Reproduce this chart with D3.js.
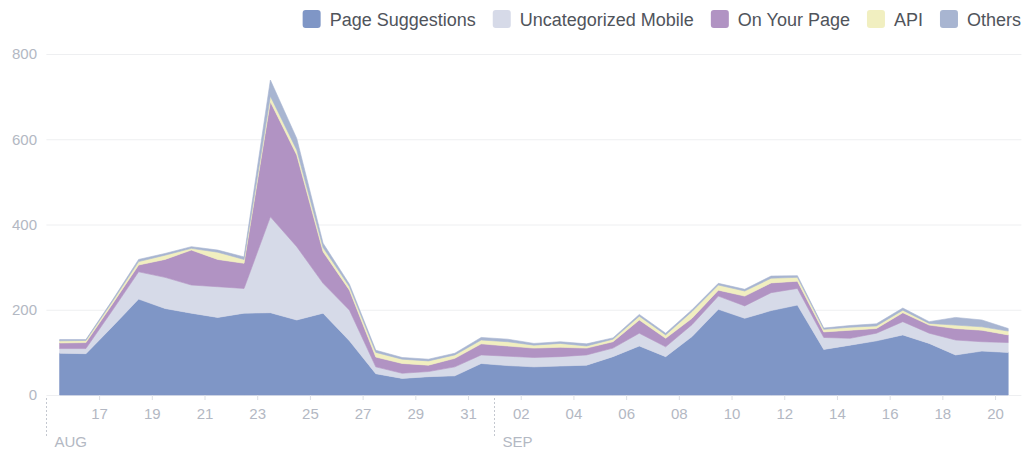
<!DOCTYPE html>
<html>
<head>
<meta charset="utf-8">
<script src="https://cdn.jsdelivr.net/npm/d3@7"></script>
<style>
  html, body { margin: 0; padding: 0; background: #ffffff; }
  svg { display: block; font-family: "Liberation Sans", Arial, sans-serif; }
</style>
</head>
<body>
<svg id="chart" width="1032" height="450"></svg>
<script>
// ---- data ----
const dates = [
  "2014-08-15","2014-08-16","2014-08-17","2014-08-18","2014-08-19","2014-08-20","2014-08-21",
  "2014-08-22","2014-08-23","2014-08-24","2014-08-25","2014-08-26","2014-08-27","2014-08-28",
  "2014-08-29","2014-08-30","2014-08-31","2014-09-01","2014-09-02","2014-09-03","2014-09-04",
  "2014-09-05","2014-09-06","2014-09-07","2014-09-08","2014-09-09","2014-09-10","2014-09-11",
  "2014-09-12","2014-09-13","2014-09-14","2014-09-15","2014-09-16","2014-09-17","2014-09-18",
  "2014-09-19","2014-09-20"
];
const seriesNames = ["Page Suggestions", "Uncategorized Mobile", "On Your Page", "API", "Others"];
const pageSuggestions = [98, 97, 160, 225, 203, 192, 182, 192, 193, 176, 192, 127, 50, 39, 43, 45, 74, 69, 66, 68, 70,
  90, 115, 90, 137, 201, 180, 198, 211, 107, 117, 127, 141, 121, 94, 103, 100];
const uncategorizedMobile = [11, 12, 38, 64, 73, 66, 72, 58, 225, 172, 70, 72, 16, 12, 12, 21, 20, 22, 22, 22, 24,
  20, 30, 23, 28, 31, 29, 42, 39, 28, 16, 18, 31, 24, 35, 22, 23];
const onYourPage = [13, 14, 15, 16, 42, 82, 64, 59, 270, 215, 74, 47, 23, 23, 15, 20, 26, 24, 22, 22, 16,
  15, 31, 20, 15, 14, 23, 23, 17, 13, 19, 11, 21, 19, 27, 27, 18];
const api = [5, 5, 6, 8, 10, 4, 17, 9, 13, 12, 10, 8, 11, 10, 10, 8, 9, 10, 7, 9, 5,
  6, 9, 8, 16, 12, 12, 11, 9, 6, 7, 6, 6, 4, 8, 8, 9];
const others = [3, 2, 3, 5, 4, 4, 5, 6, 38, 27, 10, 6, 5, 4, 4, 4, 6, 6, 4, 4, 5,
  3, 4, 4, 4, 4, 4, 5, 4, 3, 4, 5, 5, 4, 18, 16, 6];
const yTickValues = [0, 200, 400, 600, 800];
const xTickDates = ["2014-08-17","2014-08-19","2014-08-21","2014-08-23","2014-08-25","2014-08-27","2014-08-29",
  "2014-08-31","2014-09-02","2014-09-04","2014-09-06","2014-09-08","2014-09-10","2014-09-12","2014-09-14",
  "2014-09-16","2014-09-18","2014-09-20"];
const xTickLabels = ["17","19","21","23","25","27","29","31","02","04","06","08","10","12","14","16","18","20"];
const monthMarks = ["2014-08-15", "2014-09-01"];
const monthLabels = ["AUG", "SEP"];
const domainStart = "2014-08-15";
const domainEnd = "2014-09-21";

// ---- styles ----
const colors = ["#7f96c6", "#d6dae8", "#b193c3", "#f1efc0", "#a8b5d1"];
const textColor = "#b3b8c3";
const gridColor = "#eeeff1";

const parse = d3.timeParse("%Y-%m-%d");
const valuesBySeries = [pageSuggestions, uncategorizedMobile, onYourPage, api, others];
const rows = dates.map((d, i) => {
  const r = { date: d3.timeHour.offset(parse(d), 12) };
  seriesNames.forEach((k, s) => r[k] = valuesBySeries[s][i]);
  return r;
});

const svg = d3.select("#chart");
const mLeft = 46.4, mRight = 1021.4, mTop = 54, mBottom = 395;

const x = d3.scaleTime().domain([parse(domainStart), parse(domainEnd)]).range([mLeft, mRight]);
const y = d3.scaleLinear().domain([0, 800]).range([mBottom, mTop]);

// gridlines
svg.append("g").selectAll("line").data(yTickValues).join("line")
  .attr("x1", mLeft).attr("x2", mRight)
  .attr("y1", d => y(d) + 0.5).attr("y2", d => y(d) + 0.5)
  .attr("stroke", gridColor).attr("stroke-width", 1);

// y labels
svg.append("g").selectAll("text").data(yTickValues).join("text")
  .attr("x", 37).attr("y", d => y(d)).attr("dy", "0.35em")
  .attr("text-anchor", "end").attr("fill", textColor).attr("font-size", 15)
  .text(d => d);

// stacked areas
const stack = d3.stack().keys(seriesNames);
const layers = stack(rows);
const area = d3.area()
  .x(d => x(d.data.date))
  .y0(d => y(d[0]))
  .y1(d => y(d[1]))
  .curve(d3.curveLinear);

svg.append("g").selectAll("path").data(layers).join("path")
  .attr("d", area)
  .attr("fill", (d, i) => colors[i])
  .attr("stroke", (d, i) => colors[i])
  .attr("stroke-width", 0.6);

// x axis ticks
const xAxis = d3.axisBottom(x)
  .tickValues(xTickDates.map(parse))
  .tickFormat((d, i) => xTickLabels[i])
  .tickSizeInner(5).tickSizeOuter(0).tickPadding(8);
const gx = svg.append("g").attr("transform", `translate(0,${mBottom})`).call(xAxis);
gx.select(".domain").remove();
gx.selectAll(".tick line").attr("stroke", "#dcdfe5");
gx.selectAll(".tick text").attr("fill", textColor).attr("font-size", 15)
  .attr("font-family", "'Liberation Sans', Arial, sans-serif");

// month marks
const mg = svg.append("g");
monthMarks.forEach((m, i) => {
  const mx = Math.round(x(parse(m))) + 0.5;
  mg.append("line").attr("x1", mx).attr("x2", mx).attr("y1", mBottom + 3).attr("y2", 437)
    .attr("stroke", "#c4c8d0").attr("stroke-dasharray", "2,2");
  mg.append("text").attr("x", mx + 8).attr("y", 447)
    .attr("fill", textColor).attr("font-size", 15).text(monthLabels[i]);
});

// legend (right aligned)
const legend = svg.append("g");
const items = seriesNames.map((name, i) => {
  const g = legend.append("g");
  g.append("rect").attr("width", 18).attr("height", 18).attr("rx", 3).attr("ry", 3)
    .attr("y", 10).attr("fill", colors[i]);
  const t = g.append("text").attr("x", 27).attr("y", 25.5).attr("font-size", 18)
    .attr("fill", "#50545b").text(name);
  return { g, w: 27 + t.node().getComputedTextLength() };
});
let lx = 1021;
for (let i = items.length - 1; i >= 0; i--) {
  lx -= items[i].w;
  items[i].g.attr("transform", `translate(${lx},0)`);
  lx -= 17;
}
</script>
</body>
</html>
